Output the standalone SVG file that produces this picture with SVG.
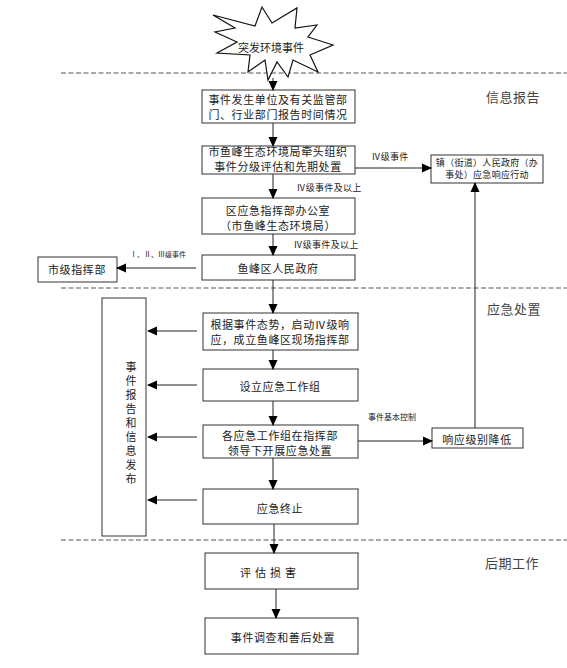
<svg xmlns="http://www.w3.org/2000/svg" width="567" height="668" viewBox="0 0 567 668">
<style>
.box{fill:#fff;stroke:#333;stroke-width:1}
.t{font-family:"Noto Sans CJK SC","Liberation Sans",sans-serif;font-size:11px;fill:#222;text-anchor:middle;dominant-baseline:central;letter-spacing:0.6px}
.s{font-size:9px;letter-spacing:0.3px}
.xs{font-size:7px;letter-spacing:0}
.sec{font-size:13px;fill:#444;letter-spacing:0.5px}
.c{stroke:#222;stroke-width:1;fill:none}
.d{stroke:#555;stroke-width:1;stroke-dasharray:5 2.5;fill:none}
</style>
<defs>
<marker id="a" markerUnits="userSpaceOnUse" markerWidth="10" markerHeight="10" refX="9" refY="5" orient="auto">
<path d="M0,0.5 L10,5 L0,9.5 Z" fill="#000"/>
</marker>
</defs>
<rect width="567" height="668" fill="#fff"/>
<g id="dividers">
<line class="d" x1="61" y1="73" x2="567" y2="73"/>
<line class="d" x1="61" y1="288" x2="567" y2="288"/>
<line class="d" x1="61" y1="540" x2="567" y2="540"/>
</g>
<g id="section-labels">
<text class="t sec" x="513" y="96">信息报告</text>
<text class="t sec" x="514" y="308">应急处置</text>
<text class="t sec" x="512" y="562">后期工作</text>
</g>
<g id="start">
<polygon points="213,15 255,26 262,7 272,23 297,8 295,28 317,25 308,37 333,45 310,55 318,72 293,60 288,77 277,62 268,80 265,60 248,72 250,55 217,53 237,42 215,32 235,28" fill="#fff" stroke="#111" stroke-width="1.2"/>
<text class="t" x="271" y="47" style="letter-spacing:0">突发环境事件</text>
</g>
<g id="n1"><rect class="box" x="202" y="90" width="153" height="33"/>
<text class="t" x="278" y="99">事件发生单位及有关监管部</text>
<text class="t" x="278" y="114">门、行业部门报告时间情况</text></g>
<g id="n2"><rect class="box" x="202" y="146" width="153" height="28"/>
<text class="t" x="278" y="151">市鱼峰生态环境局牵头组织</text>
<text class="t" x="278" y="166">事件分级评估和先期处置</text></g>
<g id="n3"><rect class="box" x="202" y="198" width="153" height="36"/>
<text class="t" x="278" y="210">区应急指挥部办公室</text>
<text class="t" x="278" y="225">（市鱼峰生态环境局）</text></g>
<g id="n4"><rect class="box" x="202" y="255" width="153" height="25"/>
<text class="t" x="278" y="268">鱼峰区人民政府</text></g>
<g id="n-city"><rect class="box" x="38" y="257" width="79" height="25"/>
<text class="t" x="77" y="269">市级指挥部</text></g>
<g id="n-town"><rect class="box" x="431" y="155" width="112" height="28"/>
<text class="t s" x="487" y="162">镇（街道）人民政府（办</text>
<text class="t s" x="487" y="174">事处）应急响应行动</text></g>
<g id="n5"><rect class="box" x="203" y="313" width="155" height="37"/>
<text class="t" x="280" y="324">根据事件态势，启动Ⅳ级响</text>
<text class="t" x="280" y="339">应，成立鱼峰区现场指挥部</text></g>
<g id="n6"><rect class="box" x="203" y="369" width="155" height="32"/>
<text class="t" x="280" y="386">设立应急工作组</text></g>
<g id="n7"><rect class="box" x="203" y="425" width="155" height="33"/>
<text class="t" x="280" y="435">各应急工作组在指挥部</text>
<text class="t" x="280" y="450">领导下开展应急处置</text></g>
<g id="n8"><rect class="box" x="203" y="489" width="155" height="35"/>
<text class="t" x="280" y="508">应急终止</text></g>
<g id="n-lower"><rect class="box" x="432" y="428" width="91" height="20"/>
<text class="t" x="477" y="439">响应级别降低</text></g>
<g id="n-info"><rect class="box" x="102" y="298" width="44" height="238"/>
<text x="131" y="361" writing-mode="vertical-rl" style="font-family:'Noto Sans CJK SC','Liberation Sans',sans-serif;font-size:11px;fill:#222;letter-spacing:3px">事件报告和信息发布</text></g>
<g id="n9"><rect class="box" x="205" y="553" width="153" height="36"/>
<text class="t" x="270" y="572" style="letter-spacing:4px">评估损害</text></g>
<g id="n10"><rect class="box" x="205" y="618" width="153" height="36"/>
<text class="t" x="283" y="637">事件调查和善后处置</text></g>
<g id="connectors">
<line class="c" x1="273" y1="78" x2="273" y2="90" marker-end="url(#a)"/>
<line class="c" x1="273" y1="123" x2="273" y2="146" marker-end="url(#a)"/>
<line class="c" x1="273" y1="174" x2="273" y2="198" marker-end="url(#a)"/>
<line class="c" x1="273" y1="234" x2="273" y2="255" marker-end="url(#a)"/>
<line class="c" x1="273" y1="280" x2="273" y2="313" marker-end="url(#a)"/>
<line class="c" x1="273" y1="350" x2="273" y2="369" marker-end="url(#a)"/>
<line class="c" x1="273" y1="401" x2="273" y2="425" marker-end="url(#a)"/>
<line class="c" x1="273" y1="458" x2="273" y2="489" marker-end="url(#a)"/>
<line class="c" x1="274" y1="524" x2="274" y2="553" marker-end="url(#a)"/>
<line class="c" x1="276" y1="589" x2="276" y2="618" marker-end="url(#a)"/>
<line class="c" x1="355" y1="168" x2="431" y2="168" marker-end="url(#a)"/>
<line class="c" x1="196" y1="268" x2="117" y2="268" marker-end="url(#a)"/>
<line class="c" x1="358" y1="441" x2="432" y2="441" marker-end="url(#a)"/>
<line class="c" x1="475" y1="428" x2="475" y2="183" marker-end="url(#a)"/>
<line class="c" x1="197" y1="331" x2="148" y2="331" marker-end="url(#a)"/>
<line class="c" x1="197" y1="385" x2="148" y2="385" marker-end="url(#a)"/>
<line class="c" x1="197" y1="437" x2="148" y2="437" marker-end="url(#a)"/>
<line class="c" x1="197" y1="500" x2="148" y2="500" marker-end="url(#a)"/>
<text class="t s" x="390" y="156">Ⅳ级事件</text>
<text class="t s" x="329" y="187">Ⅳ级事件及以上</text>
<text class="t s" x="326" y="244">Ⅳ级事件及以上</text>
<text class="t xs" x="158" y="254">Ⅰ、Ⅱ、Ⅲ级事件</text>
<text class="t xs" x="392" y="416" style="font-size:8px">事件基本控制</text>
</g>
</svg>
